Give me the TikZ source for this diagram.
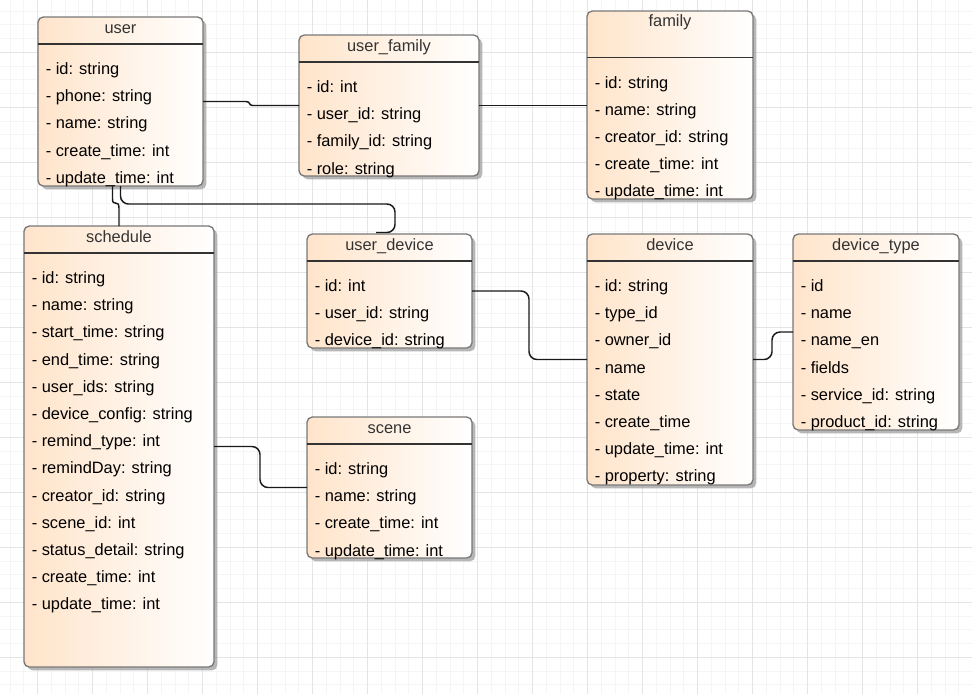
\documentclass[tikz,border=0pt]{standalone}
\usepackage{fontspec}
\setmainfont{Liberation Sans}
\usetikzlibrary{calc, fit, shadows}

\definecolor{peach}{RGB}{255,228,202}
\definecolor{boxgray}{RGB}{120,120,120}
\definecolor{titlegray}{RGB}{51,51,51}
\definecolor{gridminor}{RGB}{245,245,245}
\definecolor{gridmajor}{RGB}{228,228,228}

\begin{document}
\begin{tikzpicture}[x=0.75pt, y=-0.75pt,
    classbox/.style={draw=boxgray, line width=1pt, rounded corners=4pt, left color=peach, right color=white,
        inner sep=0pt, outer sep=0pt, drop shadow={shadow xshift=2.5pt, shadow yshift=-2.5pt, fill=black!40, opacity=.7}},
    headline/.style={draw=black!80, line width=1pt},
    classtitle/.style={anchor=base, inner sep=0pt, text=titlegray, font=\fontsize{12.3}{14}\selectfont},
    attr/.style={anchor=base west, inner sep=0pt, font=\fontsize{12.3}{14}\selectfont},
    link/.style={draw=black!90, line width=1.1pt, rounded corners=6pt}]
        \useasboundingbox (0,0) rectangle (972,694);

        % Grid
        \fill[white] (0,0) rectangle (972,694);
        \foreach \x in {10.2,23.95,...,972} \draw[gridminor, line width=0.75pt] (\x,0) -- (\x,694);
        \foreach \y in {11.05,24.8,...,694} \draw[gridminor, line width=0.75pt] (0,\y) -- (972,\y);
        \foreach \x in {37.7,92.7,...,972} \draw[gridmajor, line width=0.75pt] (\x,0) -- (\x,694);
        \foreach \y in {52.3,107.3,...,694} \draw[gridmajor, line width=0.75pt] (0,\y) -- (972,\y);

        % user
        \node[classbox, fit={(38,17) (203,186)}] (user) {};
        \draw[headline] ($(user.north west)+(0,27)$) -- ($(user.north east)+(0,27)$);
        \node[classtitle] (user-title) at ($(user.north)+(0,16)$) {user};
        \foreach \a [count=\i] in {- id: string, - phone: string, - name: string, - create\_time: int, - update\_time: int}
            \node[attr] (user-\i) at ($(user.north west)+(7.5,{57.5+27.2*(\i-1)})$) {\a};

        % user_family
        \node[classbox, fit={(299,35) (479,176)}] (user-family) {};
        \draw[headline] ($(user-family.north west)+(0,27)$) -- ($(user-family.north east)+(0,27)$);
        \node[classtitle] (user-family-title) at ($(user-family.north)+(0,16)$) {user\_family};
        \foreach \a [count=\i] in {- id: int, - user\_id: string, - family\_id: string, - role: string}
            \node[attr] (user-family-\i) at ($(user-family.north west)+(7.5,{57.5+27.2*(\i-1)})$) {\a};

        % family
        \node[classbox, fit={(587,11) (753,199)}] (family) {};
        \draw[headline] ($(family.north west)+(0,46.5)$) -- ($(family.north east)+(0,46.5)$);
        \node[classtitle] (family-title) at ($(family.north)+(0,15.5)$) {family};
        \foreach \a [count=\i] in {- id: string, - name: string, - creator\_id: string, - create\_time: int, - update\_time: int}
            \node[attr] (family-\i) at ($(family.north west)+(7.5,{77+27.2*(\i-1)})$) {\a};

        % schedule
        \node[classbox, fit={(24,226) (214,667)}] (schedule) {};
        \draw[headline] ($(schedule.north west)+(0,27)$) -- ($(schedule.north east)+(0,27)$);
        \node[classtitle] (schedule-title) at ($(schedule.north)+(0,16)$) {schedule};
        \foreach \a [count=\i] in {- id: string, - name: string, - start\_time: string, - end\_time: string,
                - user\_ids: string, - device\_config: string, - remind\_type: int, - remindDay: string,
                - creator\_id: string, - scene\_id: int, - status\_detail: string, - create\_time: int, - update\_time: int}
            \node[attr] (schedule-\i) at ($(schedule.north west)+(7.5,{57.5+27.2*(\i-1)})$) {\a};

        % user_device
        \node[classbox, fit={(307,234) (472,348)}] (user-device) {};
        \draw[headline] ($(user-device.north west)+(0,27)$) -- ($(user-device.north east)+(0,27)$);
        \node[classtitle] (user-device-title) at ($(user-device.north)+(0,16)$) {user\_device};
        \foreach \a [count=\i] in {- id: int, - user\_id: string, - device\_id: string}
            \node[attr] (user-device-\i) at ($(user-device.north west)+(7.5,{57.5+27.2*(\i-1)})$) {\a};

        % scene
        \node[classbox, fit={(307,417) (472,558)}] (scene) {};
        \draw[headline] ($(scene.north west)+(0,27)$) -- ($(scene.north east)+(0,27)$);
        \node[classtitle] (scene-title) at ($(scene.north)+(0,16)$) {scene};
        \foreach \a [count=\i] in {- id: string, - name: string, - create\_time: int, - update\_time: int}
            \node[attr] (scene-\i) at ($(scene.north west)+(7.5,{57.5+27.2*(\i-1)})$) {\a};

        % device
        \node[classbox, fit={(587,234) (753,485)}] (device) {};
        \draw[headline] ($(device.north west)+(0,27)$) -- ($(device.north east)+(0,27)$);
        \node[classtitle] (device-title) at ($(device.north)+(0,16)$) {device};
        \foreach \a [count=\i] in {- id: string, - type\_id, - owner\_id, - name, - state, - create\_time,
                - update\_time: int, - property: string}
            \node[attr] (device-\i) at ($(device.north west)+(7.5,{57.5+27.2*(\i-1)})$) {\a};

        % device_type
        \node[classbox, fit={(793,234) (959,430)}] (device-type) {};
        \draw[headline] ($(device-type.north west)+(0,27)$) -- ($(device-type.north east)+(0,27)$);
        \node[classtitle] (device-type-title) at ($(device-type.north)+(0,16)$) {device\_type};
        \foreach \a [count=\i] in {- id, - name, - name\_en, - fields, - service\_id: string, - product\_id: string}
            \node[attr] (device-type-\i) at ($(device-type.north west)+(7.5,{57.5+27.2*(\i-1)})$) {\a};

        % Links
        \draw[link, sharp corners] (user.east) -- ++(43,0)
            .. controls ($(user.east)+(48,0)$) and ($(user.east |- user-family.west)+(45,0)$)
            .. ($(user.east |- user-family.west)+(50,0)$) -- (user-family.west);
        \draw[link] (user-family.east) -- (user-family.east -| family.west);
        \draw[link, sharp corners] ([xshift=-6pt]user.south) -- ++(0,13)
            .. controls ($(user.south)+(-8,21)$) and ($(schedule.north)+(0,-27)$)
            .. ($(schedule.north)+(0,-18)$) -- (schedule.north);
        \draw[link] (user.south) -- ++(0,18) -| ($(user-device.north)+(5.5,-1.5)$) -- ($(user-device.north)+(-13.5,-1.5)$);
        \draw[link] (schedule.east) -- ++(46,0) |- (scene.west);
        \draw[link] (user-device.east) -- ++(57,0) |- (device.west);
        \draw[link] (device.east) -- ++(19,0) |- (device-type.west);
    \end{tikzpicture}
\end{document}
